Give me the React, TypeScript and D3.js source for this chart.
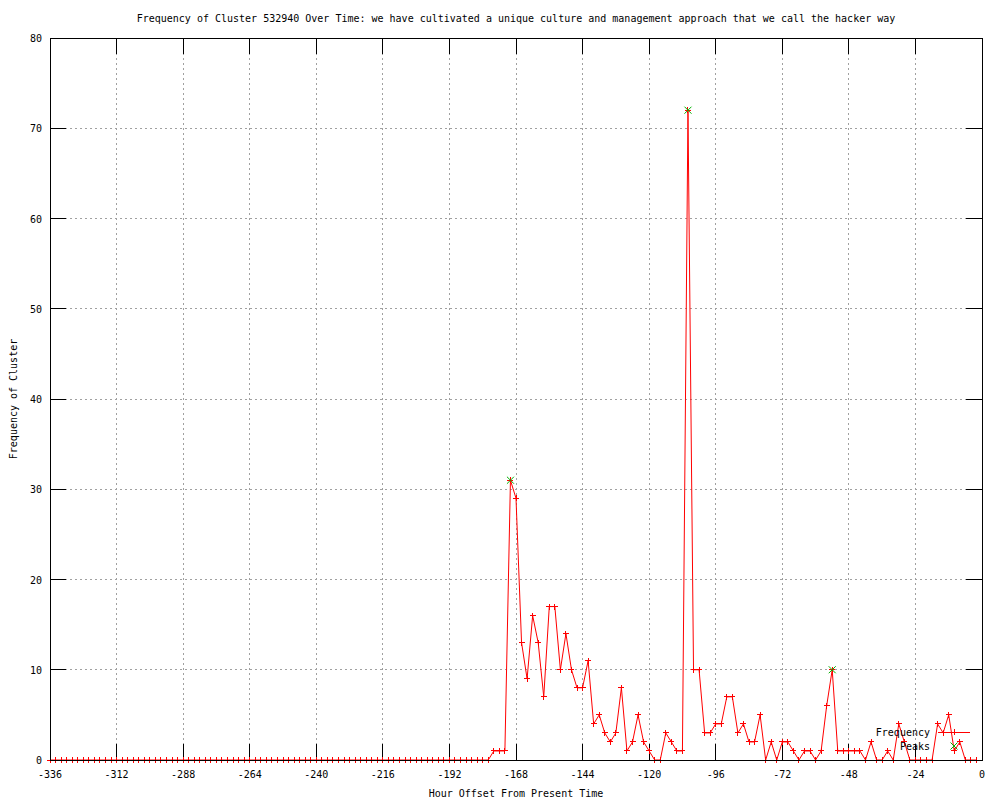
import React from "react";
import * as d3 from "d3";

const title =
  "Frequency of Cluster 532940 Over Time: we have cultivated a unique culture and management approach that we call the hacker way";
const xLabel = "Hour Offset From Present Time";
const yLabel = "Frequency of Cluster";

const xTicks = [-336, -312, -288, -264, -240, -216, -192, -168, -144, -120, -96, -72, -48, -24, 0];
const yTicks = [0, 10, 20, 30, 40, 50, 60, 70, 80];

// hours -336 .. -178 are all zero (every 2 hours)
const zeroHours = [
  -336, -334, -332, -330, -328, -326, -324, -322, -320, -318, -316, -314, -312, -310, -308, -306,
  -304, -302, -300, -298, -296, -294, -292, -290, -288, -286, -284, -282, -280, -278, -276, -274,
  -272, -270, -268, -266, -264, -262, -260, -258, -256, -254, -252, -250, -248, -246, -244, -242,
  -240, -238, -236, -234, -232, -230, -228, -226, -224, -222, -220, -218, -216, -214, -212, -210,
  -208, -206, -204, -202, -200, -198, -196, -194, -192, -190, -188, -186, -184, -182, -180, -178,
];

const activeHours = [
  -176, -174, -172, -170, -168, -166, -164, -162, -160, -158, -156, -154, -152, -150, -148, -146,
  -144, -142, -140, -138, -136, -134, -132, -130, -128, -126, -124, -122, -120, -118, -116, -114,
  -112, -110, -108, -106, -104, -102, -100, -98, -96, -94, -92, -90, -88, -86, -84, -82, -80, -78,
  -76, -74, -72, -70, -68, -66, -64, -62, -60, -58, -56, -54, -52, -50, -48, -46, -44, -42, -40,
  -38, -36, -34, -32, -30, -28, -26, -24, -22, -20, -18, -16, -14, -12, -10, -8, -6, -4, -2,
];
const activeValues = [
  1, 1, 1, 31, 29, 13, 9, 16, 13, 7, 17, 17, 10, 14, 10, 8,
  8, 11, 4, 5, 3, 2, 3, 8, 1, 2, 5, 2, 1, 0, 0, 3,
  2, 1, 1, 72, 10, 10, 3, 3, 4, 4, 7, 7, 3, 4, 2, 2, 5, 0,
  2, 0, 2, 2, 1, 0, 1, 1, 0, 1, 6, 10, 1, 1, 1, 1, 1, 0, 2,
  0, 0, 1, 0, 4, 2, 0, 0, 0, 0, 0, 4, 3, 5, 1, 2, 0, 0, 0,
];

const peakHours = [-170, -106, -54];
const peakValues = [31, 72, 10];

const FONT = "'DejaVu Sans Mono', 'Liberation Mono', monospace";

export default function App() {
  const left = 50;
  const right = 982;
  const top = 38;
  const bottom = 760;
  const x = d3.scaleLinear().domain([-336, 0]).range([left, right]);
  const y = d3.scaleLinear().domain([0, 80]).range([bottom, top]);

  const data: [number, number][] = [
    ...zeroHours.map((h) => [h, 0] as [number, number]),
    ...activeHours.map((h, i) => [h, activeValues[i]] as [number, number]),
  ];
  const peaks: [number, number][] = peakHours.map((h, i) => [h, peakValues[i]]);

  const line = d3
    .line<[number, number]>()
    .x((d) => x(d[0]))
    .y((d) => y(d[1]));

  const tickLen = 16;
  const plus = (cx: number, cy: number, s = 3) => `M${cx - s},${cy}H${cx + s}M${cx},${cy - s}V${cy + s}`;
  const cross = (cx: number, cy: number, s = 3.5) =>
    `M${cx - s},${cy - s}L${cx + s},${cy + s}M${cx - s},${cy + s}L${cx + s},${cy - s}`;

  const legendSampleX0 = 938;
  const legendSampleX1 = 970;
  const legendY1 = 732;
  const legendY2 = 746;

  return (
    <svg
      width={1000}
      height={800}
      style={{ position: "absolute", left: 0, top: 0, background: "#fff" }}
      fontFamily={FONT}
      fontSize={10}
    >
      <rect x={0} y={0} width={1000} height={800} fill="#fff" />
      {/* grid */}
      <g stroke="#a0a0a0" strokeWidth={1} strokeDasharray="2,3" shapeRendering="crispEdges">
        {xTicks.slice(1, -1).map((t) => (
          <line key={"gx" + t} x1={x(t)} x2={x(t)} y1={top} y2={bottom} />
        ))}
        {yTicks.slice(1, -1).map((t) => (
          <line key={"gy" + t} x1={left} x2={right} y1={y(t)} y2={y(t)} />
        ))}
      </g>
      {/* ticks */}
      <g stroke="#000" strokeWidth={1} shapeRendering="crispEdges">
        {xTicks.map((t) => (
          <g key={"tx" + t}>
            <line x1={x(t)} x2={x(t)} y1={bottom} y2={bottom - tickLen} />
            <line x1={x(t)} x2={x(t)} y1={top} y2={top + tickLen} />
          </g>
        ))}
        {yTicks.map((t) => (
          <g key={"ty" + t}>
            <line x1={left} x2={left + tickLen} y1={y(t)} y2={y(t)} />
            <line x1={right} x2={right - tickLen} y1={y(t)} y2={y(t)} />
          </g>
        ))}
      </g>
      {/* data */}
      <path d={line(data) || ""} fill="none" stroke="#ff0000" strokeWidth={1} />
      <path
        d={data.map((d) => plus(x(d[0]), y(d[1]))).join("")}
        fill="none"
        stroke="#ff0000"
        strokeWidth={1}
        shapeRendering="crispEdges"
      />
      <path
        d={peaks.map((d) => cross(x(d[0]), y(d[1]))).join("")}
        fill="none"
        stroke="#00b000"
        strokeWidth={1}
      />
      {/* legend */}
      <g fill="#000" textAnchor="end" fontSize={10}>
        <text x={930} y={legendY1 + 4}>Frequency</text>
        <text x={930} y={legendY2 + 4}>Peaks</text>
      </g>
      <line x1={legendSampleX0} x2={legendSampleX1} y1={legendY1} y2={legendY1} stroke="#ff0000" shapeRendering="crispEdges" />
      <path d={plus((legendSampleX0 + legendSampleX1) / 2, legendY1)} stroke="#ff0000" fill="none" shapeRendering="crispEdges" />
      <path d={cross((legendSampleX0 + legendSampleX1) / 2, legendY2)} stroke="#00b000" fill="none" />
      {/* border */}
      <rect
        x={left}
        y={top}
        width={right - left}
        height={bottom - top}
        fill="none"
        stroke="#000"
        strokeWidth={1}
        shapeRendering="crispEdges"
      />
      {/* tick labels */}
      <g fill="#000" fontSize={10}>
        {xTicks.map((t) => (
          <text key={"lx" + t} x={x(t)} y={778} textAnchor="middle">
            {t}
          </text>
        ))}
        {yTicks.map((t) => (
          <text key={"ly" + t} x={42} y={y(t) + 4} textAnchor="end">
            {t}
          </text>
        ))}
      </g>
      <text x={516} y={22} textAnchor="middle" fill="#000">
        {title}
      </text>
      <text x={516} y={797} textAnchor="middle" fill="#000">
        {xLabel}
      </text>
      <text x={17} y={399} textAnchor="middle" fill="#000" transform="rotate(-90 17 399)">
        {yLabel}
      </text>
    </svg>
  );
}
